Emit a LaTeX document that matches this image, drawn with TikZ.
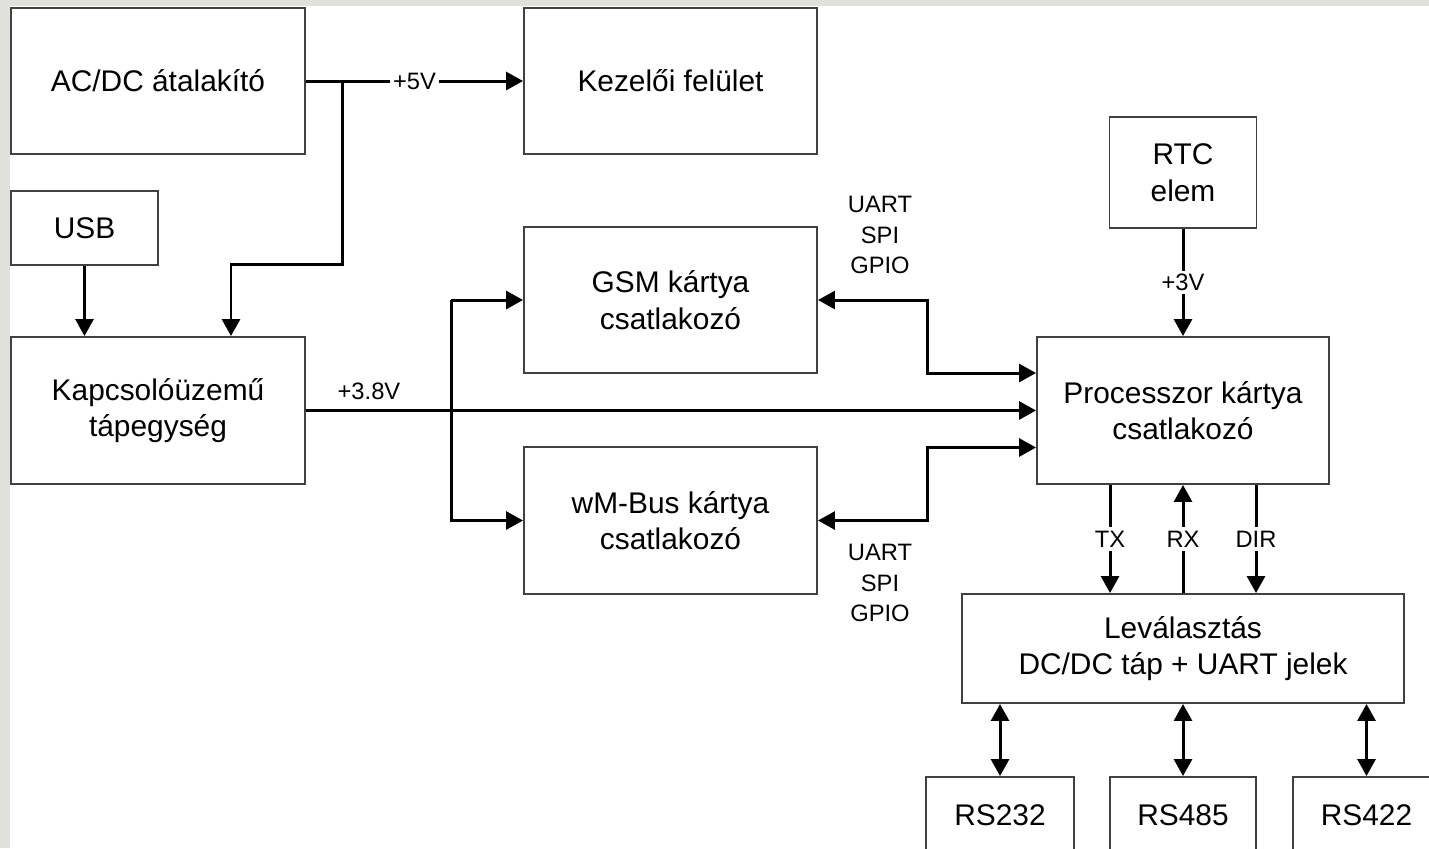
\documentclass[tikz,border=0pt]{standalone}
\usepackage{fontspec}
\setmainfont{Liberation Sans}
\usetikzlibrary{arrows.meta}
\definecolor{hatter}{RGB}{225,225,220}

\begin{document}
\begin{tikzpicture}[
	doboz/.style={draw=black!75, line width=1.1pt, align=center, font=\fontsize{17}{20.8}\selectfont, inner sep=0pt},
	vezetek/.style={line width=1.7pt, -{Triangle[length=0.34cm,width=0.36cm]}},
	ketiranyu/.style={line width=1.7pt, {Triangle[length=0.34cm,width=0.36cm]}-{Triangle[length=0.34cm,width=0.36cm]}},
	felirat/.style={font=\fontsize{13.5}{17.3}\selectfont, align=center, inner sep=2pt}]
			\useasboundingbox (0,0) rectangle (28.58,-16.96);
			\fill[hatter] (0,0) rectangle (28.58,-16.96);
			\fill[white] (0.2,-0.11) rectangle (28.58,-16.96);
			\clip (0,0) rectangle (28.58,-16.96);
			\node[doboz, minimum width=5.88cm, minimum height=2.92cm] (acdc) at (3.16,-1.62) {AC/DC átalakító};
			\node[doboz, minimum width=5.86cm, minimum height=2.92cm] (kezelo) at (13.41,-1.62) {Kezelői felület};
			\node[doboz, minimum width=2.94cm, minimum height=1.48cm] (usb) at (1.69,-4.56) {USB};
			\node[doboz, minimum width=5.88cm, minimum height=2.94cm] (tap) at (3.16,-8.21) {Kapcsolóüzemű\\tápegység};
			\node[doboz, minimum width=5.86cm, minimum height=2.92cm] (gsm) at (13.41,-6.0) {GSM kártya\\csatlakozó};
			\node[doboz, minimum width=5.86cm, minimum height=2.94cm] (wmbus) at (13.41,-10.41) {wM-Bus kártya\\csatlakozó};
			\node[doboz, minimum width=5.84cm, minimum height=2.94cm] (proc) at (23.66,-8.21) {Processzor kártya\\csatlakozó};
			\node[doboz, minimum width=2.94cm, minimum height=2.22cm] (rtc) at (23.66,-3.45) {RTC\\elem};
			\node[doboz, minimum width=8.84cm, minimum height=2.18cm] (levalaszt) at (23.66,-12.97) {Leválasztás\\DC/DC táp + UART jelek};
			\node[doboz, minimum width=2.96cm, minimum height=1.52cm] (rs232) at (20.0,-16.30) {RS232};
			\node[doboz, minimum width=2.92cm, minimum height=1.52cm] (rs485) at (23.66,-16.30) {RS485};
			\node[doboz, minimum width=2.94cm, minimum height=1.52cm] (rs422) at (27.33,-16.30) {RS422};
			\draw[vezetek] (acdc.east) -- node[felirat, fill=white] (v5) {+5V} (kezelo.west);
			\coordinate (elagazas) at ([xshift=0.74cm]acdc.east);
			\draw[vezetek] (elagazas) -- ++(0,-3.66) -| ([xshift=1.46cm]tap.north);
			\draw[vezetek] (usb.south) -- (usb.south |- tap.north);
			\draw[vezetek] (tap.east) -- (proc.west);
			\node[felirat] (v38) at ([xshift=1.26cm,yshift=0.39cm]tap.east) {+3.8V};
			\coordinate (sin) at ([xshift=-1.44cm]gsm.west);
			\draw[vezetek] (sin) -- (gsm.west);
			\draw[vezetek] (sin) |- (wmbus.west);
			\draw[ketiranyu] (gsm.east) -- ++(2.2,0) |- ([yshift=0.75cm]proc.west);
			\draw[ketiranyu] (wmbus.east) -- ++(2.2,0) |- ([yshift=-0.74cm]proc.west);
			\node[felirat] (gsmjel) at (17.6,-4.70) {UART\\SPI\\GPIO};
			\node[felirat] (wmbusjel) at (17.6,-11.66) {UART\\SPI\\GPIO};
			\draw[vezetek] (rtc.south) -- node[felirat, fill=white] (v3) {+3V} (proc.north);
			\draw[vezetek] ([xshift=-1.46cm]proc.south) -- node[felirat, fill=white] (tx) {TX} ([xshift=-1.46cm]levalaszt.north);
			\draw[vezetek] (levalaszt.north) -- node[felirat, fill=white] (rx) {RX} (proc.south);
			\draw[vezetek] ([xshift=1.46cm]proc.south) -- node[felirat, fill=white] (dir) {DIR} ([xshift=1.46cm]levalaszt.north);
			\draw[ketiranyu] (rs232.north |- levalaszt.south) -- (rs232.north);
			\draw[ketiranyu] (rs485.north |- levalaszt.south) -- (rs485.north);
			\draw[ketiranyu] (rs422.north |- levalaszt.south) -- (rs422.north);
		\end{tikzpicture}
\end{document}
